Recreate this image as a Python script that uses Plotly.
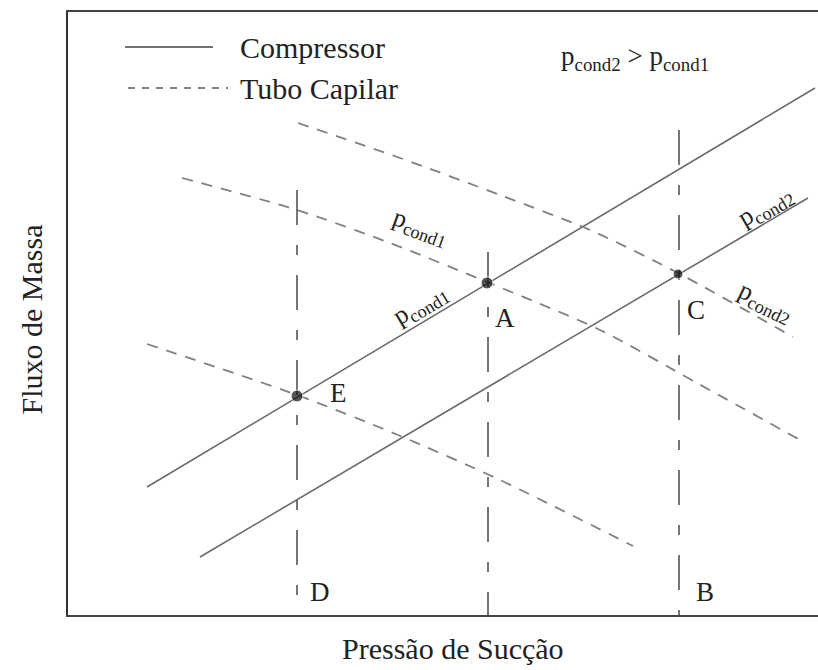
import plotly.graph_objects as go

# Operating-point diagram: compressor vs. capillary-tube mass flow
# Coordinates are in arbitrary diagram units (suction pressure, mass flow).

# Compressor characteristics (straight lines)
comp_p1_x = [79, 747]
comp_p1_y = [128, 527]
comp_p2_x = [132, 740]
comp_p2_y = [58, 417]

# Capillary tube characteristics (slightly curved)
cap_p1_x = [114, 229, 322, 419, 532, 629, 732]
cap_p1_y = [437, 405, 372, 333, 285, 232, 175]
cap_p2_x = [230, 332, 432, 522, 610, 725]
cap_p2_y = [492, 457, 420, 385, 342, 278]
cap_low_x = [79, 229, 330, 432, 565]
cap_low_y = [271, 220, 180, 135, 69]

# Suction-pressure verticals (D, A, B)
vert_x = [229, 420, 611]
vert_top = [425, 363, 485]

# Operating points
pts_x = [229, 419, 610]
pts_y = [219, 332, 341]
pts_size = [12, 12, 10]

# Point letters
letters = ["A", "C", "E", "D", "B"]
letters_x = [437, 628, 270, 252, 637]
letters_y = [297, 305, 222, 23, 23]

SERIF = "Liberation Serif, Times New Roman, serif"
LINE_GREY = "#6a6a6a"
DASH_GREY = "#808080"

fig = go.Figure()

for xs, ys in [(comp_p1_x, comp_p1_y), (comp_p2_x, comp_p2_y)]:
    fig.add_trace(go.Scatter(x=xs, y=ys, mode="lines",
                             line=dict(color=LINE_GREY, width=1.6),
                             showlegend=False, hoverinfo="skip"))

for xs, ys in [(cap_p1_x, cap_p1_y), (cap_p2_x, cap_p2_y), (cap_low_x, cap_low_y)]:
    fig.add_trace(go.Scatter(x=xs, y=ys, mode="lines",
                             line=dict(color=DASH_GREY, width=1.8, dash="11px,9px",
                                       shape="spline", smoothing=0.8),
                             showlegend=False, hoverinfo="skip"))

for vx, vt in zip(vert_x, vert_top):
    fig.add_trace(go.Scatter(x=[vx, vx], y=[vt, 0], mode="lines",
                             line=dict(color="#4a4a4a", width=1.5,
                                       dash="35px,20px,10px,20px"),
                             showlegend=False, hoverinfo="skip"))

fig.add_trace(go.Scatter(x=pts_x, y=pts_y, mode="markers",
                         marker=dict(color="#111111", size=pts_size),
                         showlegend=False, hoverinfo="skip"))

# Legend samples
fig.add_trace(go.Scatter(x=[57, 145], y=[568, 568], mode="lines",
                         line=dict(color="#444444", width=1.4),
                         showlegend=False, hoverinfo="skip"))
fig.add_trace(go.Scatter(x=[60, 160], y=[527, 527], mode="lines",
                         line=dict(color="#555555", width=1.4, dash="7px,7px"),
                         showlegend=False, hoverinfo="skip"))

annotations = []


def txt(x, y, text, size, angle=0, xanchor="center"):
    annotations.append(dict(x=x, y=y, xref="x", yref="y", text=text,
                            showarrow=False, textangle=angle, xanchor=xanchor,
                            yanchor="middle",
                            font=dict(family=SERIF, size=size, color="#222222")))


txt(170, 568, "Compressor", 30, xanchor="left")
txt(170, 527, "Tubo Capilar", 30, xanchor="left")
txt(567, 557, "p<sub>cond2</sub> > p<sub>cond1</sub>", 27)

txt(352, 388, "p<sub>cond1</sub>", 26, angle=20)
txt(352, 310, "p<sub>cond1</sub>", 26, angle=-31)
txt(697, 408, "p<sub>cond2</sub>", 26, angle=-30)
txt(697, 313, "p<sub>cond2</sub>", 26, angle=26)

for lt, lx, ly in zip(letters, letters_x, letters_y):
    txt(lx, ly, lt, 27)

# Axis titles
annotations.append(dict(x=(453 - 68) / 750, y=-0.055, xref="paper", yref="paper",
                        text="Pressão de Sucção", showarrow=False,
                        xanchor="center", yanchor="middle",
                        font=dict(family=SERIF, size=30, color="#222222")))
annotations.append(dict(x=-0.05, y=(615 - 320) / 603, xref="paper", yref="paper",
                        text="Fluxo de Massa", showarrow=False, textangle=-90,
                        xanchor="center", yanchor="middle",
                        font=dict(family=SERIF, size=30, color="#222222")))

fig.update_layout(
    width=818, height=670,
    margin=dict(l=68, r=0, t=12, b=55),
    paper_bgcolor="white", plot_bgcolor="white",
    annotations=annotations,
    xaxis=dict(range=[0, 750], showgrid=False, zeroline=False, showticklabels=False,
               ticks="", showline=True, mirror=True, linecolor="#444444", linewidth=2),
    yaxis=dict(range=[0, 603], showgrid=False, zeroline=False, showticklabels=False,
               ticks="", showline=True, mirror=False, linecolor="#333333", linewidth=2),
)

fig.write_html("out.html")
